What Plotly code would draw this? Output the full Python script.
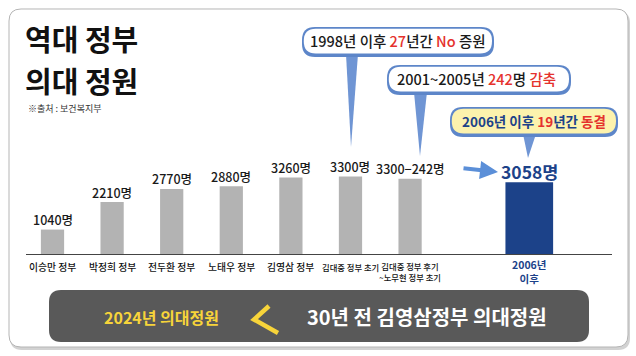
import plotly.graph_objects as go

# ---------------- data ----------------
categories = ["이승만 정부", "박정희 정부", "전두환 정부", "노태우 정부", "김영삼 정부",
              "김대중 정부 초기", "김대중 정부 후기<br>~노무현 정부 초기", "2006년<br>이후"]
quota = [1040, 2210, 2770, 2880, 3260, 3300, 3200, 3058]
value_labels = ["1040명", "2210명", "2770명", "2880명", "3260명", "3300명", "3300−242명", "3058명"]
title_lines = ["역대 정부", "의대 정원"]
source_text = "※출처 : 보건복지부"
RED = "#e5322d"
NAVY = "#1c4289"
callout_1 = f"1998년 이후 <span style='color:{RED}'>27</span>년간 <span style='color:{RED}'>No</span> 증원"
callout_2 = f"2001~2005년 <span style='color:{RED}'>242</span>명 <span style='color:{RED}'>감축</span>"
callout_3 = f"<b>2006년 이후 <span style='color:{RED}'>19</span>년간 <span style='color:{RED}'>동결</span></b>"
banner_left = "2024년 의대정원"
banner_right = "30년 전 김영삼정부 의대정원"

# ---------------- layout helpers ----------------
W, H = 636, 356
L, R, T, B = 26, 24, 100, 102
PW, PH = W - L - R, H - T - B
FONT = "Noto Sans CJK KR, Noto Sans, sans-serif"


def fx(x):
    return (x - L) / PW


def fy(y):
    return (H - B - y) / PH


def rrect(x0, y0, x1, y1, r):
    p = lambda x, y: f"{fx(x):.5f},{fy(y):.5f}"
    return (f"M {p(x0 + r, y0)} L {p(x1 - r, y0)} Q {p(x1, y0)} {p(x1, y0 + r)} "
            f"L {p(x1, y1 - r)} Q {p(x1, y1)} {p(x1 - r, y1)} L {p(x0 + r, y1)} "
            f"Q {p(x0, y1)} {p(x0, y1 - r)} L {p(x0, y0 + r)} Q {p(x0, y0)} {p(x0 + r, y0)} Z")


def poly(pts, close=True):
    s = "M " + " L ".join(f"{fx(x):.5f},{fy(y):.5f}" for x, y in pts)
    return s + (" Z" if close else "")


spacer = " "
cat_order = categories[:7] + [spacer] + categories[7:]
last = len(categories) - 1
widths = [0.8 if i == last else 0.39 for i in range(len(categories))]
colors = [NAVY if i == last else "#b3b3b3" for i in range(len(categories))]

fig = go.Figure()
fig.add_trace(go.Bar(x=categories, y=quota, width=widths,
                     marker=dict(color=colors, line=dict(width=0)),
                     hoverinfo="skip"))

shapes = []
# frame with shadow
shapes.append(dict(type="path", xref="paper", yref="paper", layer="below",
                   path=rrect(10, 11, 630, 350, 12), fillcolor="#d2d2d2", line=dict(width=0)))
shapes.append(dict(type="path", xref="paper", yref="paper", layer="below",
                   path=rrect(9, 9, 628, 347, 12), fillcolor="white",
                   line=dict(color="#b5b5b5", width=1)))

BLUE = "#5d86c9"
TAIL = "#6f95d4"
bubbles = [
    ((302, 27, 493, 54), [(346, 54), (358, 54), (351, 147)], "white"),
    ((387, 65, 570, 92), [(414, 92), (427, 92), (420, 156)], "white"),
    ((450, 107, 617, 134), [(523, 134), (536, 134), (528, 158)], "#fcf2ad"),
]
for (x0, y0, x1, y1), tail, fill in bubbles:
    shapes.append(dict(type="path", xref="paper", yref="paper", layer="above",
                       path=poly(tail), fillcolor=TAIL, line=dict(width=0)))
    shapes.append(dict(type="path", xref="paper", yref="paper", layer="above",
                       path=rrect(x0, y0, x1 + 1, y1 + 3, 13), fillcolor=BLUE, line=dict(width=0)))
    shapes.append(dict(type="path", xref="paper", yref="paper", layer="above",
                       path=rrect(x0 + 1.8, y0 + 1.8, x1 - 1, y1 - 0.5, 12), fillcolor=fill,
                       line=dict(width=0)))

# banner
shapes.append(dict(type="path", xref="paper", yref="paper", layer="above",
                   path=rrect(49, 290, 589, 342, 12), fillcolor="#595959", line=dict(width=0)))
shapes.append(dict(type="path", xref="paper", yref="paper", layer="above",
                   path=poly([(269, 306), (254, 319.5), (278, 333)], close=False),
                   line=dict(color="#f7d43a", width=4.5)))

ann = []
# title
for i, t in enumerate(title_lines):
    ann.append(dict(x=fx(23), y=fy(38 + 42 * i), xref="paper", yref="paper", text=f"<b>{t}</b>",
                    showarrow=False, xanchor="left", yanchor="middle",
                    font=dict(family=FONT, size=29, color="#111", weight=900)))
ann.append(dict(x=fx(26), y=fy(108), xref="paper", yref="paper", text=source_text,
                showarrow=False, xanchor="left", yanchor="middle",
                font=dict(family=FONT, size=9, color="#333")))

# value labels
for i, (c, v, t) in enumerate(zip(categories, quota, value_labels)):
    if i == last:
        ann.append(dict(x=c, y=v, xref="x", yref="y", text=f"<b>{t}</b>", showarrow=False,
                        xanchor="center", yanchor="middle", yshift=11,
                        font=dict(family=FONT, size=17.5, color=NAVY)))
    else:
        ann.append(dict(x=c, y=v, xref="x", yref="y", text=t, showarrow=False,
                        xanchor="center", yanchor="middle", yshift=10,
                        font=dict(family=FONT, size=12.5, color="#1a1a1a", weight=500)))

# category labels (one text per category; two-line labels keep their line break)
for i, c in enumerate(categories):
    lines = c.split("<br>")
    n = len(lines)
    long_label = max(len(s) for s in lines) > 7
    if i == last:
        ann.append(dict(x=c, y=fy(266 + 5.8 * (n - 1)), xref="x", yref="paper",
                        text=f"<b>{c}</b>", showarrow=False,
                        xanchor="center", yanchor="middle",
                        font=dict(family=FONT, size=10.5, color=NAVY)))
    else:
        ann.append(dict(x=c, y=fy(266.5 + 5.3 * (n - 1)), xref="x", yref="paper",
                        text=c, showarrow=False, xanchor="center", yanchor="middle",
                        font=dict(family=FONT, size=8.3 if long_label else 9.8,
                                  color="#111", weight=500)))

# callouts
for (cx, cy, txt, col, size) in [(397.5, 40.5, callout_1, "#1a1a1a", 14.5),
                                 (476, 79, callout_2, "#1a1a1a", 14.5),
                                 (534, 120.5, callout_3, NAVY, 13.5)]:
    ann.append(dict(x=fx(cx), y=fy(cy), xref="paper", yref="paper", text=txt,
                    showarrow=False, xanchor="center", yanchor="middle",
                    font=dict(family=FONT, size=size, color=col, weight=500)))

# arrow between the last two labels
ann.append(dict(x=fx(498), y=fy(172), xref="paper", yref="paper", text="",
                showarrow=True, ax=-36, ay=-4, arrowhead=2, arrowsize=0.9,
                arrowwidth=4, arrowcolor="#5b8fd8", standoff=0))

# banner text
ann.append(dict(x=fx(161), y=fy(316.5), xref="paper", yref="paper", text=f"<b>{banner_left}</b>",
                showarrow=False, xanchor="center", yanchor="middle",
                font=dict(family=FONT, size=16, color="#f7d43a")))
ann.append(dict(x=fx(427), y=fy(316), xref="paper", yref="paper", text=f"<b>{banner_right}</b>",
                showarrow=False, xanchor="center", yanchor="middle",
                font=dict(family=FONT, size=20, color="white")))

fig.update_layout(
    width=W, height=H, margin=dict(l=L, r=R, t=T, b=B),
    paper_bgcolor="white", plot_bgcolor="rgba(0,0,0,0)",
    showlegend=False, shapes=shapes, annotations=ann,
    font=dict(family=FONT),
    xaxis=dict(type="category", categoryorder="array", categoryarray=cat_order,
               range=[-0.4446, 9.388], showline=True, linecolor="#444", linewidth=1,
               showticklabels=False, ticks="", showgrid=False, zeroline=False, fixedrange=True),
    yaxis=dict(range=[0, PH / 0.0235], visible=False, fixedrange=True),
)

fig.write_html("out.html", config={"displayModeBar": False},
               post_script="document.body.style.margin='0';document.body.style.overflow='hidden';")
